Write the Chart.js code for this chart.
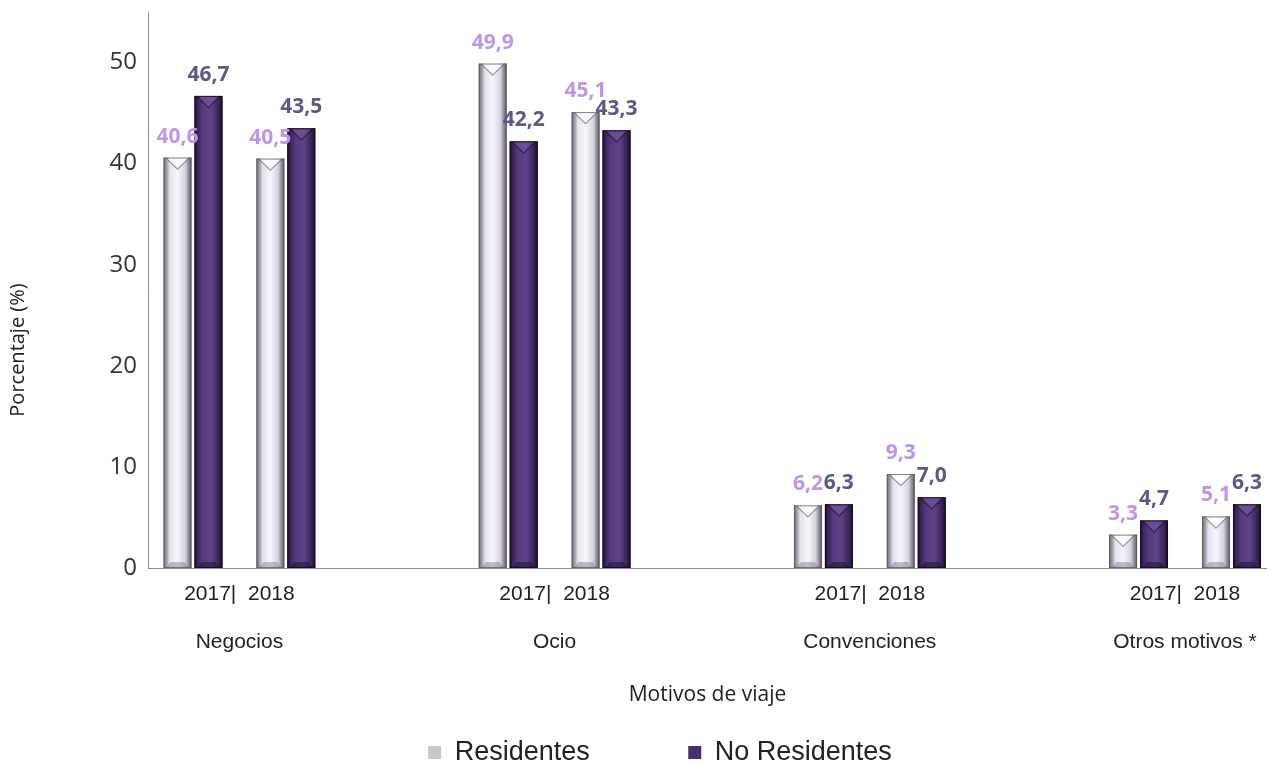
<!DOCTYPE html>
<html>
<head>
<meta charset="utf-8">
<script src="https://cdn.jsdelivr.net/npm/chart.js@4.4.1/dist/chart.umd.min.js"></script>
<style>
  html, body { margin: 0; padding: 0; background: #fff; }
  #wrap { width: 1271px; height: 763px; position: relative; }
</style>
</head>
<body>
<div id="wrap"><canvas id="grafico"></canvas></div>
<script>
// datos del grafico
const motivos = ['Negocios', 'Ocio', 'Convenciones', 'Otros motivos *'];
const etiquetaAnios = '2017|  2018';
const residentes2017 = [40.6, 49.9, 6.2, 3.3];
const noResidentes2017 = [46.7, 42.2, 6.3, 4.7];
const residentes2018 = [40.5, 45.1, 9.3, 5.1];
const noResidentes2018 = [43.5, 43.3, 7.0, 6.3];
const ticksY = [0, 10, 20, 30, 40, 50];

const colorRes = '#c9c6d0';
const colorNoRes = '#4b2f6d';

function puntos(valores) {
    return valores.map((v, i) => ({ x: i, y: v }));
}

function serie(label, valores, tipo) {
    return {
        label: label,
        data: puntos(valores),
        tipo: tipo,
        backgroundColor: tipo === 'res' ? colorRes : (tipo === 'nores' ? colorNoRes : 'rgba(0,0,0,0)'),
        borderWidth: 0
    };
}

// pinta cada barra con degradado y bisel
const biselBarras = {
    id: 'biselBarras',
    afterDatasetDraw(chart, args) {
        const ds = chart.data.datasets[args.index];
        if (ds.tipo === 'gap') return;
        const ctx = chart.ctx;
        args.meta.data.forEach(bar => {
            const p = bar.getProps(['x', 'y', 'base', 'width'], true);
            if (isNaN(p.y)) return;
            const l = p.x - p.width / 2, r = p.x + p.width / 2;
            const top = p.y, bottom = p.base, w = p.width;
            const g = ctx.createLinearGradient(l, 0, r, 0);
            if (ds.tipo === 'res') {
                g.addColorStop(0, '#6f6c78');
                g.addColorStop(0.13, '#a9a6b2');
                g.addColorStop(0.22, '#e4e1ea');
                g.addColorStop(0.5, '#f7f5fb');
                g.addColorStop(0.78, '#d6d2de');
                g.addColorStop(0.88, '#9995a2');
                g.addColorStop(1, '#5e5b66');
            } else {
                g.addColorStop(0, '#1f1230');
                g.addColorStop(0.13, '#3e2760');
                g.addColorStop(0.3, '#58397f');
                g.addColorStop(0.6, '#5e4287');
                g.addColorStop(0.86, '#3c2459');
                g.addColorStop(1, '#1a0e27');
            }
            ctx.save();
            ctx.fillStyle = g;
            ctx.fillRect(l, top, w, bottom - top);
            // chevron superior
            const d = Math.min(w * 0.42, (bottom - top) / 2);
            ctx.beginPath();
            ctx.moveTo(l + 3, top);
            ctx.lineTo(r - 3, top);
            ctx.lineTo(p.x, top + d);
            ctx.closePath();
            ctx.fillStyle = ds.tipo === 'res' ? 'rgba(255,255,255,0.75)' : 'rgba(120,90,160,0.55)';
            ctx.fill();
            ctx.beginPath();
            ctx.moveTo(l + 3, top + 1);
            ctx.lineTo(p.x, top + d);
            ctx.lineTo(r - 3, top + 1);
            ctx.strokeStyle = ds.tipo === 'res' ? 'rgba(90,88,100,0.6)' : 'rgba(20,10,35,0.6)';
            ctx.lineWidth = 1.2;
            ctx.stroke();
            // bisel inferior
            const e = Math.min(6, (bottom - top) / 3);
            ctx.beginPath();
            ctx.moveTo(l + 3, bottom);
            ctx.lineTo(l + 7, bottom - e);
            ctx.lineTo(r - 7, bottom - e);
            ctx.lineTo(r - 3, bottom);
            ctx.closePath();
            ctx.fillStyle = ds.tipo === 'res' ? 'rgba(120,118,130,0.45)' : 'rgba(20,10,35,0.45)';
            ctx.fill();
            ctx.strokeStyle = ds.tipo === 'res' ? 'rgba(80,78,90,0.7)' : 'rgba(15,8,25,0.8)';
            ctx.lineWidth = 1;
            ctx.strokeRect(l + 0.5, top + 0.5, w - 1, bottom - top - 1);
            ctx.restore();
        });
    }
};

// etiquetas de valor sobre las barras
const etiquetasValor = {
    id: 'etiquetasValor',
    afterDatasetsDraw(chart) {
        const ctx = chart.ctx;
        ctx.save();
        ctx.font = 'bold 21px "Open Sans"';
        ctx.textAlign = 'center';
        ctx.textBaseline = 'middle';
        chart.data.datasets.forEach((ds, i) => {
            if (ds.tipo === 'gap') return;
            const meta = chart.getDatasetMeta(i);
            ctx.fillStyle = ds.tipo === 'res' ? '#be94ec' : '#5e5886';
            meta.data.forEach((bar, j) => {
                const v = ds.data[j].y;
                ctx.fillText(v.toFixed(1).replace('.', ','), bar.x, bar.y - 21);
            });
        });
        ctx.restore();
    }
};

const ctx = document.getElementById('grafico');

new Chart(ctx, {
    type: 'bar',
    data: {
        datasets: [
            serie('Residentes\u2003\u2003\u2003 ', residentes2017, 'res'),
            serie('No Residentes', noResidentes2017, 'nores'),
            serie('', motivos.map(() => null), 'gap'),
            serie('Residentes', residentes2018, 'res'),
            serie('No Residentes', noResidentes2018, 'nores')
        ]
    },
    options: {
        responsive: true,
        maintainAspectRatio: false,
        devicePixelRatio: 1,
        animation: false,
        categoryPercentage: 0.491,
        barPercentage: 0.9,
        layout: { padding: { top: 12, right: 3, left: 52, bottom: -13 } },
        scales: {
            x: {
                type: 'linear',
                offset: false,
                min: -0.29,
                max: 3.26,
                grid: { display: false, drawTicks: false },
                border: { display: true, color: '#8c8c8c', width: 1 },
                afterBuildTicks: (scale) => {
                    scale.ticks = motivos.map((m, i) => ({ value: i }));
                },
                afterFit: (scale) => { scale.height = 161; },
                ticks: {
                    autoSkip: false,
                    maxRotation: 0,
                    padding: 14,
                    color: '#222',
                    font: { family: '"Liberation Sans", Arial', size: 21, lineHeight: 1.15 },
                    callback: (value) => [etiquetaAnios, '', motivos[value]]
                },
                title: {
                    display: true,
                    text: 'Motivos de viaje',
                    color: '#222',
                    font: { family: '"Open Sans"', size: 21 },
                    padding: { top: 0, bottom: 21 }
                }
            },
            y: {
                min: 0,
                max: 55,
                grid: { display: false, drawTicks: false },
                border: { display: true, color: '#8c8c8c', width: 1 },
                afterBuildTicks: (scale) => {
                    scale.ticks = ticksY.map(v => ({ value: v }));
                },
                afterFit: (scale) => {
                    scale.width = 96;
                    scale.paddingTop = 0;
                },
                ticks: {
                    padding: 11,
                    color: '#333',
                    font: { family: '"Open Sans"', size: 24 }
                },
                title: {
                    display: true,
                    text: 'Porcentaje (%)\u2003\u2003\u2003\u2003\u2003\u2003',
                    color: '#222',
                    font: { family: '"Open Sans"', size: 20 },
                    padding: { top: -46, bottom: 0 }
                }
            }
        },
        plugins: {
            legend: {
                position: 'bottom',
                labels: {
                    filter: (item) => item.datasetIndex < 2,
                    boxWidth: 13,
                    boxHeight: 13,
                    padding: 10,
                    color: '#222',
                    font: { family: '"Liberation Sans", Arial', size: 27 }
                }
            },
            tooltip: { enabled: false }
        }
    },
    plugins: [biselBarras, etiquetasValor]
});
</script>
</body>
</html>
